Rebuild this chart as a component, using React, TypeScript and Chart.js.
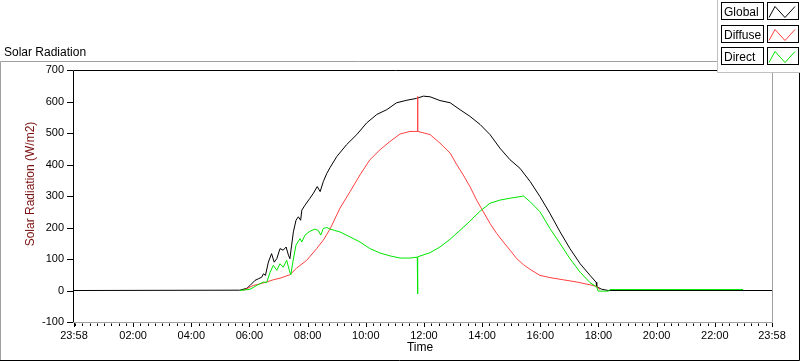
import React, { useEffect, useRef } from 'react';
import { Chart, registerables } from 'chart.js';
Chart.register(...registerables);

// Time axis: decimal hours of day; axis runs from 23:58 (previous day) to 23:58
const X_START = -2 / 60;
const X_END = 24 - 2 / 60;
const majorTickHours = [X_START, 2, 4, 6, 8, 10, 12, 14, 16, 18, 20, 22, X_END];
const yTickValues = [-100, 0, 100, 200, 300, 400, 500, 600, 700];

const seriesNames = ['Global', 'Diffuse', 'Direct'];
const seriesColors = ['#000000', '#ff4040', '#00e600'];

const globalTimes = [X_START, 5.67, 5.91, 6.02, 6.19, 6.30, 6.42, 6.48, 6.55, 6.65, 6.76, 6.85, 6.94, 7.05, 7.16, 7.26, 7.34, 7.39, 7.45, 7.51, 7.60, 7.68, 7.76, 7.80, 7.91, 8.08, 8.20, 8.33, 8.43, 8.54, 8.66, 8.77, 9.00, 9.34, 9.69, 10.03, 10.38, 10.72, 11.06, 11.41, 11.75, 11.98, 12.21, 12.55, 12.90, 13.24, 13.58, 13.93, 14.27, 14.61, 14.96, 15.30, 15.65, 15.99, 16.33, 16.68, 17.02, 17.37, 17.71, 17.92, 17.94, 18.11, 18.34, X_END];
const globalValues = [0, 1, 7, 16, 32, 37, 42, 53, 48, 90, 117, 90, 101, 133, 128, 138, 112, 101, 144, 186, 223, 234, 223, 255, 271, 293, 309, 330, 314, 346, 372, 390, 425, 463, 495, 532, 559, 574, 596, 604, 610, 617, 615, 603, 596, 574, 553, 527, 495, 452, 415, 388, 346, 298, 245, 186, 133, 85, 48, 26, 12, 4, 0, 0];

const diffuseTimes = [5.78, 6.13, 6.36, 6.59, 6.82, 7.05, 7.39, 7.62, 7.97, 8.31, 8.54, 8.77, 9.11, 9.46, 9.80, 10.14, 10.49, 10.83, 11.18, 11.52, 11.77, 11.78, 11.79, 12.21, 12.55, 12.90, 13.13, 13.35, 13.58, 13.81, 14.04, 14.27, 14.50, 14.73, 14.96, 15.19, 15.42, 15.65, 15.99, 16.33, 16.79, 17.25, 17.71, 17.94, 18.05];
const diffuseValues = [0, 16, 21, 27, 34, 39, 50, 71, 96, 133, 160, 195, 261, 314, 367, 415, 447, 473, 497, 505, 505, 616, 505, 495, 468, 436, 399, 367, 330, 287, 250, 213, 181, 154, 128, 101, 82, 67, 48, 41, 34, 27, 18, 13, 3];

const directTimes = [5.67, 6.02, 6.25, 6.48, 6.59, 6.71, 6.82, 6.94, 7.05, 7.16, 7.28, 7.37, 7.42, 7.51, 7.60, 7.74, 7.80, 7.91, 8.08, 8.25, 8.37, 8.45, 8.54, 8.66, 8.77, 9.11, 9.46, 9.80, 10.14, 10.49, 10.83, 11.18, 11.52, 11.77, 11.78, 11.79, 12.21, 12.55, 12.90, 13.24, 13.58, 13.93, 14.27, 14.61, 14.96, 15.30, 15.42, 15.65, 15.99, 16.33, 16.68, 17.02, 17.37, 17.71, 17.94, 17.99, 18.34, 18.40, 22.97];
const directValues = [0, 4, 16, 27, 25, 58, 80, 64, 85, 74, 96, 64, 50, 100, 144, 165, 154, 176, 188, 195, 190, 176, 197, 200, 195, 186, 170, 154, 133, 119, 110, 103, 103, 106, -11, 107, 120, 138, 163, 191, 220, 252, 277, 287, 293, 298, 300, 282, 250, 197, 149, 101, 58, 25, 11, -2, -2, 3, 3];

const FONT = '"Liberation Sans", Arial, sans-serif';

function fmtTime(h: number): string {
  let mins = Math.round(h * 60);
  if (mins < 0) mins += 1440;
  const hh = Math.floor(mins / 60) % 24;
  const mm = mins % 60;
  return String(hh).padStart(2, '0') + ':' + String(mm).padStart(2, '0');
}

function toPoints(ts: number[], vs: number[]) {
  return ts.map((t, i) => ({ x: t, y: vs[i] }));
}

const decor = {
  id: 'decor',
  beforeDraw(chart: any) {
    const ctx = chart.ctx;
    ctx.save();
    ctx.fillStyle = '#ffffff';
    ctx.fillRect(0, 0, chart.width, chart.height);
    ctx.restore();
  },
  afterDraw(chart: any) {
    const ctx = chart.ctx;
    const xs = chart.scales.x;
    const ys = chart.scales.y;
    const line = (pts: number[][], color: string) => {
      ctx.strokeStyle = color;
      ctx.beginPath();
      ctx.moveTo(pts[0][0], pts[0][1]);
      for (let i = 1; i < pts.length; i++) ctx.lineTo(pts[i][0], pts[i][1]);
      ctx.stroke();
    };
    ctx.save();
    ctx.lineWidth = 1;
    // outer frame
    line([[0.5, 360], [0.5, 61.5], [717, 61.5]], '#a0a0a0');
    line([[0, 360.5], [799.5, 360.5], [799.5, 70]], '#000000');
    // plot border
    line([[73.5, 322], [73.5, 70.5], [717, 70.5]], '#000000');
    line([[772.5, 72], [772.5, 322.5], [73, 322.5]], '#a0a0a0');
    // y ticks
    for (const v of yTickValues) {
      const y = Math.round(ys.getPixelForValue(v)) + 0.5;
      line([[67, y], [73, y]], '#000000');
    }
    // x ticks
    for (const h of majorTickHours) {
      const x = Math.round(xs.getPixelForValue(h)) + 0.5;
      line([[x, 323], [x, 327]], '#000000');
    }
    for (let h = 0; h < 24; h += 0.25) {
      if (h % 2 === 0 && h > 0) continue;
      const x = Math.round(xs.getPixelForValue(h)) + 0.5;
      line([[x, 323.5], [x, 326]], '#000000');
    }
    // titles
    ctx.font = '12px ' + FONT;
    ctx.fillStyle = '#000000';
    ctx.textAlign = 'left';
    ctx.textBaseline = 'alphabetic';
    ctx.fillText('Solar Radiation', 4, 56);
    ctx.textAlign = 'center';
    ctx.fillText('Time', 420, 351);
    ctx.save();
    ctx.translate(31, 184);
    ctx.rotate(-Math.PI / 2);
    ctx.fillStyle = '#7a1010';
    ctx.textBaseline = 'middle';
    ctx.fillText('Solar Radiation (W/m2)', 0, 0);
    ctx.restore();
    // legend
    ctx.fillStyle = '#ffffff';
    ctx.fillRect(717, 0, 83, 72);
    line([[717.5, 0], [717.5, 72.5], [800, 72.5]], '#c0c0c0');
    const rowTops = [2, 24.5, 47];
    rowTops.forEach((top, i) => {
      const t = Math.round(top) + 0.5;
      ctx.strokeStyle = '#000000';
      ctx.strokeRect(721.5, t, 42, 17);
      ctx.strokeRect(767.5, t, 31, 17);
      ctx.fillStyle = '#000000';
      ctx.textAlign = 'left';
      ctx.textBaseline = 'alphabetic';
      ctx.font = '12px ' + FONT;
      ctx.fillText(seriesNames[i], 724, t + 13.5);
      line([[769, t + 15], [775, t + 4], [785, t + 15], [795, t + 4]], seriesColors[i]);
    });
    ctx.restore();
  },
};

export default function App() {
  const ref = useRef<HTMLCanvasElement | null>(null);
  useEffect(() => {
    if (!ref.current) return;
    const chart = new Chart(ref.current, {
      type: 'line',
      data: {
        datasets: [
          { label: 'Global', data: toPoints(globalTimes, globalValues), borderColor: seriesColors[0], borderWidth: 1, pointRadius: 0, tension: 0, order: 2 },
          { label: 'Diffuse', data: toPoints(diffuseTimes, diffuseValues), borderColor: seriesColors[1], borderWidth: 1, pointRadius: 0, tension: 0, order: 1 },
          { label: 'Direct', data: toPoints(directTimes, directValues), borderColor: seriesColors[2], borderWidth: 1, pointRadius: 0, tension: 0, order: 0 },
        ],
      },
      options: {
        animation: false,
        responsive: false,
        devicePixelRatio: 1,
        layout: { padding: { left: 0, right: 28, top: 70, bottom: 0 } },
        plugins: { legend: { display: false }, tooltip: { enabled: false } },
        scales: {
          x: {
            type: 'linear',
            min: X_START,
            max: X_END,
            afterBuildTicks: (s: any) => { s.ticks = majorTickHours.map((v) => ({ value: v })); },
            afterFit: (s: any) => { s.height = 39; },
            ticks: {
              autoSkip: false,
              maxRotation: 0,
              padding: 7,
              color: '#000000',
              font: { family: FONT, size: 11 },
              callback: (v: any) => fmtTime(Number(v)),
            },
            grid: { display: false, drawTicks: false },
            border: { display: false },
          },
          y: {
            min: -100,
            max: 700,
            afterFit: (s: any) => { s.width = 74; },
            ticks: {
              stepSize: 100,
              padding: 10,
              color: '#000000',
              font: { family: FONT, size: 11 },
            },
            grid: { display: false, drawTicks: false },
            border: { display: false },
          },
        },
      },
      plugins: [decor],
    } as any);
    return () => chart.destroy();
  }, []);
  return (
    <div style={{ position: 'absolute', left: 0, top: 0, width: 800, height: 361, background: '#fff' }}>
      <canvas ref={ref} width={800} height={361} />
    </div>
  );
}
